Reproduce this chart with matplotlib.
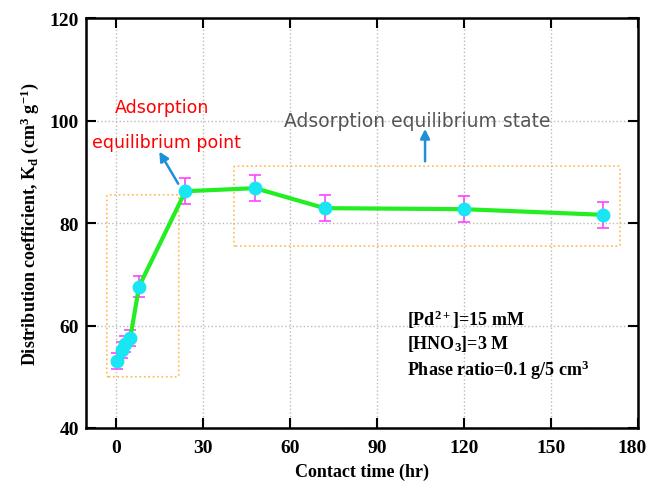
import matplotlib
matplotlib.use("Agg")
import matplotlib.pyplot as plt
import matplotlib.transforms as mtransforms
from matplotlib.patches import FancyBboxPatch

# data
time_hr = [0.5, 2, 3, 5, 8, 24, 48, 72, 120, 168]
kd = [53.1, 55.2, 56.4, 57.6, 67.6, 86.2, 86.8, 82.9, 82.7, 81.6]
kd_err = [1.5, 1.6, 1.6, 1.6, 2.0, 2.5, 2.5, 2.5, 2.5, 2.5]
xticks = [0, 30, 60, 90, 120, 150, 180]
yticks = [40, 60, 80, 100, 120]

plt.rcParams["font.family"] = "Liberation Serif"
plt.rcParams["font.weight"] = "bold"
plt.rcParams["mathtext.fontset"] = "custom"
plt.rcParams["mathtext.rm"] = "Liberation Serif:bold"
plt.rcParams["mathtext.it"] = "Liberation Serif:bold"
plt.rcParams["mathtext.bf"] = "Liberation Serif:bold"

fig = plt.figure(figsize=(6.51, 4.89), dpi=100)
ax = fig.add_axes([0.132, 0.1227, 0.848, 0.8384])

ax.errorbar(time_hr, kd, yerr=kd_err, fmt="none", ecolor="#ff44ff",
            elinewidth=1.2, capsize=4, capthick=1.2, zorder=2)
ax.plot(time_hr, kd, color="#22ee22", lw=3, zorder=3)
ax.plot(time_hr, kd, "o", color="#18e6f2", ms=9, zorder=4)

ax.set_xlim(-10.3, 180)
ax.set_ylim(40, 120)
ax.set_xticks(xticks)
ax.set_yticks(yticks)
ax.grid(True, ls=":", color="#bbbbbb", lw=1)
ax.tick_params(direction="in", length=7, width=1.5, top=True, right=True,
               labeltop=False, labelright=False, labelsize=14)
ax.tick_params(axis="x", pad=8)
ax.tick_params(axis="y", pad=5)
for s in ax.spines.values():
    s.set_linewidth(1.8)

# keep the last x label inside the canvas
last = ax.get_xticklabels()[-1]
last.set_transform(last.get_transform() +
                   mtransforms.ScaledTranslation(-4 / 72, 0, fig.dpi_scale_trans))

ax.set_xlabel("Contact time (hr)", fontsize=13, fontweight="bold", labelpad=5)
ax.set_ylabel(r"Distribution coefficient, K$_d$ (cm$^3$ g$^{-1}$)",
              fontsize=13, fontweight="bold", labelpad=6)

# dotted boxes
for (x0, y0, x1, y1) in [(-3.1, 50.0, 21.7, 85.5), (40.7, 75.5, 173.8, 91.1)]:
    box = FancyBboxPatch((x0, y0), x1 - x0, y1 - y0,
                         boxstyle="round,pad=0,rounding_size=0.6",
                         fill=False, ec="#ffb84d", ls=":", lw=1.2, zorder=1,
                         mutation_aspect=0.5)
    ax.add_patch(box)

# arrows
ax.annotate("", xy=(14.5, 94.4), xytext=(22, 87.2),
            arrowprops=dict(arrowstyle="-|>", color="#1e90d8", lw=1.8,
                            mutation_scale=14))
ax.annotate("", xy=(106.6, 98.9), xytext=(106.6, 91.5),
            arrowprops=dict(arrowstyle="-|>", color="#1e90d8", lw=1.8,
                            mutation_scale=14))

ax.text(15.9, 102.6, "Adsorption", color="red", fontsize=12.5,
        family="DejaVu Sans", fontweight="normal", ha="center", va="center")
ax.text(17.6, 95.8, "equilibrium point", color="red", fontsize=12.5,
        family="DejaVu Sans", fontweight="normal", ha="center", va="center")
ax.text(104, 100.1, "Adsorption equilibrium state", color="#555555",
        fontsize=13.5, family="DejaVu Sans", fontweight="normal",
        ha="center", va="center")

ax.text(100.5, 61.3, r"[Pd$^{2+}$]=15 mM", fontsize=13, ha="left", va="center")
ax.text(100.5, 56.6, r"[HNO$_3$]=3 M", fontsize=13, ha="left", va="center")
ax.text(100.5, 51.5, r"Phase ratio=0.1 g/5 cm$^3$", fontsize=13,
        ha="left", va="center")

fig.savefig("out.png", dpi=100)
